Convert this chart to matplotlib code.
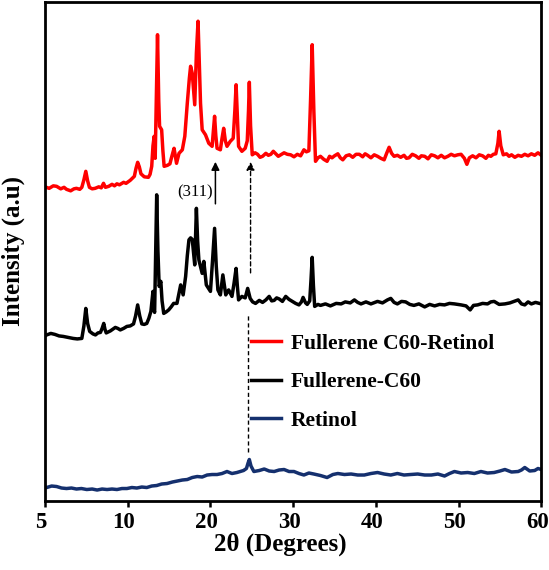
# XRD patterns: Fullerene C60-Retinol vs Fullerene-C60 vs Retinol

import matplotlib
matplotlib.use("Agg")
import matplotlib.pyplot as plt
import matplotlib.transforms as mtransforms


# x positions on the (evenly spaced) tick scale, first tick is labelled 5
red_x = [0, 0.5, 1.0, 1.4, 1.9, 2.3, 2.6, 3.1, 3.5, 3.8, 4.2, 4.45, 4.7, 4.93, 5.15, 5.37, 5.7,
         6.06, 6.5, 6.8, 7.07, 7.3, 7.7, 8.1, 8.4, 8.69, 9.0, 9.5, 9.8, 10.3, 10.8, 11.0, 11.2,
         11.4, 11.6, 12.0, 12.5, 12.7, 12.9, 13.05, 13.2, 13.32, 13.45, 13.6, 13.75, 13.85, 14.1,
         14.25, 14.4, 14.8, 15.1, 15.35, 15.6, 15.9, 16.2, 16.6, 16.9, 17.2, 17.45, 17.6, 17.8,
         18.1, 18.3, 18.5, 18.65, 18.8, 19.0, 19.4, 19.8, 20.2, 20.35, 20.5, 20.65, 20.8, 21.2,
         21.4, 21.6, 21.8, 22.0, 22.4, 22.75, 22.95, 23.1, 23.25, 23.4, 23.8, 24.2, 24.45, 24.6,
         24.7, 24.85, 25.05, 25.4, 25.7, 26.0, 26.3, 26.7, 27.0, 27.3, 27.6, 27.9, 28.2, 28.5,
         28.9, 29.3, 29.7, 30.1, 30.5, 30.9, 31.3, 31.6, 31.9, 32.1, 32.3, 32.5, 32.7, 33.0, 33.3,
         33.7, 34.1, 34.4, 34.7, 35.0, 35.4, 35.7, 36.0, 36.4, 36.8, 37.2, 37.6, 38.0, 38.4, 38.7,
         39.0, 39.4, 39.8, 40.2, 40.6, 41.0, 41.3, 41.6, 41.9, 42.2, 42.6, 43.0, 43.4, 43.7, 44.0,
         44.4, 44.8, 45.2, 45.5, 45.9, 46.3, 46.7, 47.1, 47.5, 47.9, 48.3, 48.7, 49.1, 49.5, 49.9,
         50.3, 50.7, 51.0, 51.3, 51.7, 52.1, 52.5, 52.9, 53.3, 53.6, 53.9, 54.2, 54.5, 54.75,
         54.9, 55.1, 55.4, 55.8, 56.1, 56.4, 56.8, 57.2, 57.6, 58.0, 58.4, 58.8, 59.2, 59.6, 60.0]
red_y = [62.8, 62.5, 63.0, 62.9, 62.4, 62.7, 62.3, 62.0, 62.4, 62.5, 62.3, 62.7, 64.2, 65.9, 64.0,
         62.7, 62.4, 62.5, 62.8, 62.6, 63.5, 62.7, 62.9, 63.3, 63.0, 63.4, 63.2, 63.7, 63.5, 64.1,
         64.9, 66.5, 67.7, 66.8, 65.4, 64.8, 64.7, 65.3, 66.9, 71.0, 72.9, 68.5, 80.0, 93.2, 80.0,
         74.9, 74.2, 70.0, 66.9, 67.1, 67.4, 69.0, 70.5, 67.5, 69.5, 70.2, 72.9, 79.5, 84.5, 86.9,
         85.5, 79.2, 89.5, 95.9, 88.0, 79.5, 74.2, 73.2, 71.5, 70.9, 74.0, 76.9, 73.0, 70.5, 70.2,
         72.5, 74.5, 72.0, 70.9, 71.9, 72.5, 78.0, 83.2, 77.0, 70.9, 69.9, 70.5, 72.0, 78.0, 83.7,
         75.0, 69.2, 69.6, 69.3, 68.7, 68.9, 69.5, 69.1, 69.3, 69.9, 69.4, 68.9, 69.2, 69.6, 69.3,
         69.2, 68.8, 69.3, 69.0, 70.2, 69.8, 70.0, 80.0, 91.2, 78.0, 67.9, 68.6, 68.9, 68.3, 67.9,
         68.9, 68.6, 69.0, 69.4, 68.6, 68.2, 69.0, 69.2, 68.7, 69.3, 69.3, 68.8, 69.4, 69.1, 68.6,
         69.2, 68.9, 68.5, 68.2, 69.5, 70.7, 69.5, 68.9, 69.1, 68.7, 69.1, 68.5, 68.6, 69.3, 69.0,
         68.5, 69.0, 68.9, 68.4, 69.2, 69.0, 68.6, 69.1, 68.6, 68.9, 69.3, 69.0, 69.2, 69.3, 68.5,
         67.3, 68.6, 69.0, 68.6, 69.2, 69.0, 68.5, 69.1, 68.9, 69.3, 69.4, 71.5, 73.9, 71.0, 69.2,
         69.4, 68.9, 69.2, 68.7, 69.1, 68.9, 69.3, 69.0, 69.4, 69.1, 69.6, 69.1]

black_x = [0, 0.2, 0.7, 1.2, 1.7, 2.2, 2.8, 3.4, 3.9, 4.45, 4.7, 4.93, 5.15, 5.4, 5.8, 6.1, 6.4,
           6.7, 6.9, 7.1, 7.25, 7.4, 7.9, 8.5, 8.8, 9.1, 9.5, 9.9, 10.3, 10.7, 10.95, 11.2, 11.45,
           11.7, 12.0, 12.3, 12.55, 12.8, 13.05, 13.2, 13.25, 13.38, 13.5, 13.65, 13.8, 14.0,
           14.15, 14.35, 14.65, 14.95, 15.25, 15.55, 15.95, 16.2, 16.4, 16.7, 17.0, 17.2, 17.4,
           17.6, 17.8, 18.1, 18.2, 18.3, 18.45, 18.6, 19.0, 19.2, 19.5, 20.0, 20.25, 20.5, 20.7,
           20.9, 21.2, 21.5, 21.85, 22.2, 22.6, 22.85, 23.1, 23.25, 23.4, 23.8, 24.2, 24.5, 24.8,
           25.1, 25.45, 25.9, 26.3, 26.7, 27.1, 27.4, 27.7, 28.0, 28.3, 28.7, 29.1, 29.5, 29.9,
           30.3, 30.7, 31.0, 31.2, 31.5, 31.7, 32.0, 32.15, 32.3, 32.45, 32.6, 33.0, 33.3, 33.9,
           34.5, 35.2, 35.8, 36.3, 36.9, 37.4, 37.8, 38.2, 38.8, 39.4, 40.2, 40.8, 41.4, 41.8,
           42.2, 42.6, 43.1, 43.6, 44.1, 44.6, 45.2, 45.9, 46.5, 47.1, 47.7, 48.3, 48.9, 49.5,
           50.3, 50.9, 51.4, 51.8, 52.3, 52.9, 53.5, 53.9, 54.3, 54.9, 55.6, 56.2, 56.7, 57.2,
           57.6, 58.0, 58.4, 58.8, 59.3, 60.0]
black_y = [33.0, 33.2, 33.5, 33.3, 33.0, 32.9, 32.7, 32.5, 32.4, 32.5, 35.0, 38.5, 35.5, 33.9,
           33.4, 33.2, 33.6, 33.7, 34.5, 35.5, 34.3, 33.6, 34.0, 34.7, 34.5, 34.2, 34.5, 34.9,
           35.0, 35.4, 37.0, 39.2, 37.0, 35.4, 35.3, 35.5, 36.5, 37.9, 41.9, 38.0, 37.7, 50.0,
           61.2, 50.0, 42.9, 43.9, 40.0, 37.5, 37.8, 38.2, 38.8, 39.5, 39.5, 41.5, 43.2, 41.2,
           44.9, 49.0, 52.2, 52.6, 52.3, 47.2, 53.0, 58.5, 52.0, 48.2, 45.5, 47.9, 43.2, 41.9,
           48.0, 54.5, 47.0, 42.2, 41.2, 45.2, 41.2, 42.2, 40.9, 43.5, 46.5, 43.0, 40.2, 40.9,
           40.6, 42.5, 40.5, 39.8, 39.5, 40.1, 39.7, 40.2, 40.9, 40.0, 40.1, 40.6, 40.4, 39.9,
           40.9, 40.3, 39.9, 39.5, 39.2, 39.8, 40.7, 39.6, 39.3, 40.0, 44.0, 48.7, 43.0, 38.9,
           39.3, 39.1, 39.4, 39.0, 39.5, 39.4, 39.8, 39.6, 40.2, 39.7, 39.4, 39.8, 39.4, 39.9,
           39.6, 40.2, 40.5, 39.7, 39.4, 39.9, 39.8, 39.3, 39.1, 39.4, 38.8, 39.3, 39.0, 39.3,
           39.2, 39.5, 39.4, 39.2, 39.0, 38.2, 39.1, 39.2, 39.5, 39.4, 39.8, 39.9, 39.3, 39.4,
           39.6, 39.9, 40.2, 39.4, 39.2, 39.8, 39.4, 39.7, 39.4]

blue_x = [0, 0.2, 0.8, 1.4, 2.0, 2.6, 3.2, 3.8, 4.4, 5.05, 5.7, 6.3, 6.9, 7.5, 8.1, 8.7, 9.3,
          9.9, 10.5, 11.1, 11.7, 12.3, 12.9, 13.5, 14.1, 14.75, 15.4, 16.0, 16.6, 17.2, 17.8,
          18.4, 19.0, 19.6, 20.2, 20.8, 21.4, 22.0, 22.6, 23.2, 23.6, 24.0, 24.35, 24.55, 24.7,
          24.9, 25.25, 25.9, 26.5, 27.1, 27.7, 28.3, 28.9, 29.5, 30.1, 30.7, 31.3, 31.9, 32.5,
          33.3, 34.1, 34.8, 35.4, 36.2, 37.0, 37.8, 38.6, 39.4, 40.2, 41.0, 41.8, 42.6, 43.4,
          44.2, 45.05, 45.9, 46.7, 47.5, 48.3, 48.9, 49.5, 50.3, 51.1, 51.9, 52.7, 53.5, 54.3,
          55.0, 55.6, 56.4, 57.2, 57.6, 58.0, 58.6, 59.2, 59.6, 60.0]
blue_y = [2.8, 2.7, 3.0, 2.9, 2.6, 2.5, 2.6, 2.4, 2.5, 2.3, 2.4, 2.2, 2.4, 2.3, 2.4, 2.3, 2.5,
          2.5, 2.7, 2.6, 2.8, 2.7, 3.0, 3.1, 3.4, 3.5, 3.8, 4.0, 4.2, 4.3, 4.7, 4.9, 4.8, 5.2,
          5.3, 5.3, 5.5, 5.9, 5.5, 5.7, 5.9, 6.1, 6.5, 7.6, 8.3, 7.0, 5.9, 6.1, 6.4, 6.0, 5.9,
          6.2, 6.3, 5.9, 5.9, 5.5, 5.2, 5.6, 5.4, 5.1, 4.7, 5.3, 5.5, 5.3, 5.4, 5.2, 5.2, 5.5,
          5.7, 5.4, 5.2, 5.5, 5.2, 5.3, 5.4, 5.2, 5.2, 5.4, 5.0, 5.5, 5.9, 5.6, 5.7, 5.5, 5.9,
          5.6, 5.7, 6.0, 6.3, 5.8, 5.9, 6.2, 6.7, 6.0, 6.1, 6.5, 6.3]

tick_pos = [0, 10, 20, 30, 40, 50, 60]
tick_labels = ["5", "10", "20", "30", "40", "50", "60"]

labels = ["Fullerene C60-Retinol", "Fullerene-C60", "Retinol"]
colors = ["#ff0000", "#000000", "#15306e"]

SERIF = "Liberation Serif"


fig = plt.figure(figsize=(5.49, 5.70), dpi=100)
ax = fig.add_axes([0.082, 0.121, 0.904, 0.876])

ax.plot(red_x, red_y, color=colors[0], lw=2.5, label=labels[0])
ax.plot(black_x, black_y, color=colors[1], lw=2.5, label=labels[1])
ax.plot(blue_x, blue_y, color=colors[2], lw=2.5, label=labels[2])

# (311) arrow
ax.annotate("", xy=(20.6, 67.8), xytext=(20.6, 59.4),
            arrowprops=dict(arrowstyle="-|>", color="black", lw=1.1,
                            mutation_scale=12, shrinkA=0, shrinkB=0))
ax.text(20.35, 61.6, "(311)", family=SERIF, fontsize=12,
        ha="right", va="center")

# dashed guide lines
ax.annotate("", xy=(24.85, 67.8), xytext=(24.85, 45.6),
            arrowprops=dict(arrowstyle="-|>", color="black", lw=1.0,
                            linestyle=(0, (3, 2)), mutation_scale=12,
                            shrinkA=0, shrinkB=0))
ax.plot([24.6, 24.6], [9.8, 37.2], color="black", lw=1.0, ls=(0, (3, 2)))

ax.set_xlim(0, 60)
ax.set_ylim(0, 99.8)
ax.set_xticks(tick_pos)
ax.set_xticklabels(tick_labels, family=SERIF, fontweight="bold", fontsize=16.5)
ax.set_yticks([])
ax.tick_params(axis="x", direction="out", length=4, width=1.8, pad=4)

# tick labels in the reference sit a little left of their ticks
shift = mtransforms.ScaledTranslation(-4 / 100, 0, fig.dpi_scale_trans)
for lbl in ax.get_xticklabels():
    lbl.set_transform(lbl.get_transform() + shift)

for sp in ax.spines.values():
    sp.set_linewidth(2.0)

ax.set_xlabel("2θ (Degrees)", family=SERIF, fontweight="bold", fontsize=18)
ax.xaxis.set_label_coords(0.474, -0.064)
ax.set_ylabel("Intensity (a.u)", family=SERIF, fontweight="bold", fontsize=18)
ax.yaxis.set_label_coords(-0.04, 0.5)

ax.legend(loc="upper left", bbox_to_anchor=(0.415, 0.335), frameon=False,
          prop=dict(family=SERIF, weight="bold", size=15.5),
          handlelength=1.4, handletextpad=0.45, labelspacing=0.86,
          borderpad=0, borderaxespad=0)

plt.savefig("out.png", dpi=100)
plt.close(fig)
